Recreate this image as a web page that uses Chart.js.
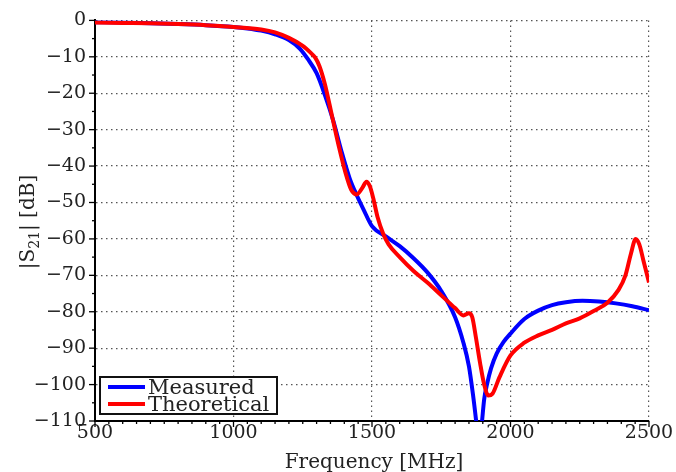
<!DOCTYPE html>
<html>
<head>
<meta charset="utf-8">
<script src="https://cdn.jsdelivr.net/npm/chart.js@4"></script>
<style>
  html, body { margin: 0; padding: 0; background: #fff; }
  #wrap { width: 676px; height: 472px; }
</style>
</head>
<body>
<div id="wrap"><canvas id="s21Chart" width="676" height="472"></canvas></div>
<script>
// Measured curve (frequency in MHz, |S21| in dB)
const measuredFreq = [500, 600, 700, 800, 900, 1000, 1050, 1100, 1150, 1200, 1240, 1270, 1300, 1330, 1360, 1390, 1420, 1445, 1470, 1500, 1550, 1600, 1650, 1700, 1750, 1800, 1830, 1850, 1865, 1876, 1886, 1896, 1905, 1915, 1930, 1950, 1975, 2000, 2050, 2100, 2150, 2200, 2260, 2320, 2380, 2440, 2500];
const measuredDb = [-0.5, -0.6, -0.8, -1.0, -1.3, -1.8, -2.2, -2.8, -3.8, -5.4, -7.8, -10.8, -14.5, -20.5, -27.5, -36, -43.5, -48, -52, -56.5, -59.3, -62, -65.3, -69.2, -74.3, -81.5, -88.5, -95, -103, -110, -117, -111, -104, -100, -95.5, -91.5, -88.3, -86, -82, -79.7, -78.2, -77.4, -77, -77.2, -77.7, -78.5, -79.6];

// Theoretical curve
const theoryFreq = [500, 600, 700, 800, 900, 1000, 1100, 1150, 1200, 1250, 1280, 1295, 1310, 1330, 1355, 1380, 1405, 1425, 1445, 1465, 1480, 1492, 1505, 1520, 1540, 1560, 1600, 1650, 1700, 1750, 1800, 1830, 1850, 1862, 1875, 1890, 1905, 1920, 1935, 1960, 2000, 2050, 2100, 2150, 2200, 2250, 2300, 2350, 2390, 2415, 2435, 2452, 2465, 2480, 2500];
const theoryDb = [-0.6, -0.7, -0.8, -1.0, -1.3, -1.8, -2.5, -3.3, -4.8, -7, -9, -10.2, -12.5, -17.5, -26, -34.5, -42, -46.5, -47.8, -46, -44.3, -45.5, -49, -54, -58.5, -61.5, -65, -68.8, -72, -75.5, -79, -81, -80.4, -81.5, -87, -94, -100, -103, -102.5, -98, -92, -88.5, -86.5, -85, -83.2, -81.8, -79.8, -77.5, -74, -70, -64, -60, -61.5, -66, -72];

const seriesNames = ['Measured', 'Theoretical'];
const xTickStep = 500;
const yTickStep = 10;

const toPoints = (xs, ys) => xs.map((x, i) => ({ x: x, y: ys[i] }));
const serif = 'DejaVu Serif';

// ---------- extra drawing: minor ticks, axis titles, legend box ---------- //
const decorPlugin = {
    id: 'decor',
    afterDraw(chart) {
        const ctx = chart.ctx;
        const area = chart.chartArea;
        const xs = chart.scales.x;
        const ys = chart.scales.y;
        ctx.save();
        ctx.strokeStyle = '#000';
        ctx.lineWidth = 1.3;

        // x ticks (major 500, minor 50), below the axis
        for (let f = xs.min; f <= xs.max + 0.1; f += 50) {
            const px = xs.getPixelForValue(f);
            const len = (f % xTickStep === 0) ? 6 : 3;
            ctx.beginPath();
            ctx.moveTo(px, area.bottom);
            ctx.lineTo(px, area.bottom + len);
            ctx.stroke();
        }
        // y ticks (major 10, minor 5), left of the axis
        for (let v = ys.min; v <= ys.max + 0.1; v += 5) {
            const py = ys.getPixelForValue(v);
            const len = (v % yTickStep === 0) ? 6 : 3;
            ctx.beginPath();
            ctx.moveTo(area.left, py);
            ctx.lineTo(area.left - len, py);
            ctx.stroke();
        }

        // x axis title
        ctx.fillStyle = '#222';
        ctx.font = '20px "' + serif + '"';
        ctx.textAlign = 'center';
        ctx.textBaseline = 'alphabetic';
        ctx.fillText('Frequency [MHz]', (area.left + area.right) / 2 + 2, 468);

        // y axis title |S21| [dB] with subscript
        ctx.save();
        ctx.translate(34, 222);
        ctx.rotate(-Math.PI / 2);
        const big = '20px "' + serif + '"';
        const small = '14px "' + serif + '"';
        const parts = [['|S', big, 0], ['21', small, 5], ['| [dB]', big, 0]];
        let total = 0;
        parts.forEach(p => { ctx.font = p[1]; total += ctx.measureText(p[0]).width; });
        let cx = -total / 2;
        ctx.textAlign = 'left';
        parts.forEach(p => {
            ctx.font = p[1];
            ctx.fillText(p[0], cx, p[2]);
            cx += ctx.measureText(p[0]).width;
        });
        ctx.restore();

        // legend box in lower-left corner of the plot
        const bx = area.left + 5, by = area.bottom - 44, bw = 177, bh = 37;
        ctx.fillStyle = '#fff';
        ctx.fillRect(bx, by, bw, bh);
        ctx.lineWidth = 2;
        ctx.strokeStyle = '#111';
        ctx.strokeRect(bx, by, bw, bh);
        chart.data.datasets.slice().sort((a, b) => a.legendIndex - b.legendIndex).forEach((ds, i) => {
            const ly = by + 10 + i * 17;
            ctx.strokeStyle = ds.borderColor;
            ctx.lineWidth = 4;
            ctx.beginPath();
            ctx.moveTo(bx + 8, ly);
            ctx.lineTo(bx + 45, ly);
            ctx.stroke();
            ctx.fillStyle = '#222';
            ctx.font = '21px "' + serif + '"';
            ctx.textAlign = 'left';
            ctx.textBaseline = 'alphabetic';
            ctx.fillText(ds.label, bx + 48, ly + 7);
        });
        ctx.restore();
    }
};

new Chart(document.getElementById('s21Chart'), {
    type: 'line',
    data: {
        datasets: [{
            label: seriesNames[1],
            legendIndex: 1,
            data: toPoints(theoryFreq, theoryDb),
            borderColor: '#ff0000',
            borderWidth: 4,
            pointRadius: 0,
            fill: false,
            cubicInterpolationMode: 'monotone',
            order: 0
        }, {
            label: seriesNames[0],
            legendIndex: 0,
            data: toPoints(measuredFreq, measuredDb),
            borderColor: '#0000ff',
            borderWidth: 4,
            pointRadius: 0,
            fill: false,
            cubicInterpolationMode: 'monotone',
            order: 1
        }]
    },
    options: {
        responsive: false,
        animation: false,
        devicePixelRatio: 1,
        layout: { padding: { top: 20, right: 27, left: 0, bottom: 0 } },
        plugins: { legend: { display: false }, tooltip: { enabled: false } },
        scales: {
            x: {
                type: 'linear',
                min: 500,
                max: 2500,
                afterFit: (scale) => { scale.height = 51; },
                ticks: {
                    stepSize: xTickStep,
                    maxRotation: 0,
                    autoSkip: false,
                    padding: 1,
                    color: '#222',
                    font: { family: serif, size: 19 },
                    callback: (v) => String(v)
                },
                grid: { color: '#555', lineWidth: 1.2, drawTicks: false },
                border: { display: true, color: '#000', width: 2, dash: [1.5, 3.5] }
            },
            y: {
                min: -110,
                max: 0,
                afterFit: (scale) => { scale.width = 95; },
                ticks: {
                    stepSize: yTickStep,
                    padding: 9,
                    color: '#222',
                    font: { family: serif, size: 19 },
                    callback: (v) => String(v).replace('-', '\u2212')
                },
                grid: { color: '#555', lineWidth: 1.2, drawTicks: false },
                border: { display: true, color: '#000', width: 2, dash: [1.5, 3.5] }
            }
        }
    },
    plugins: [decorPlugin]
});
</script>
</body>
</html>
